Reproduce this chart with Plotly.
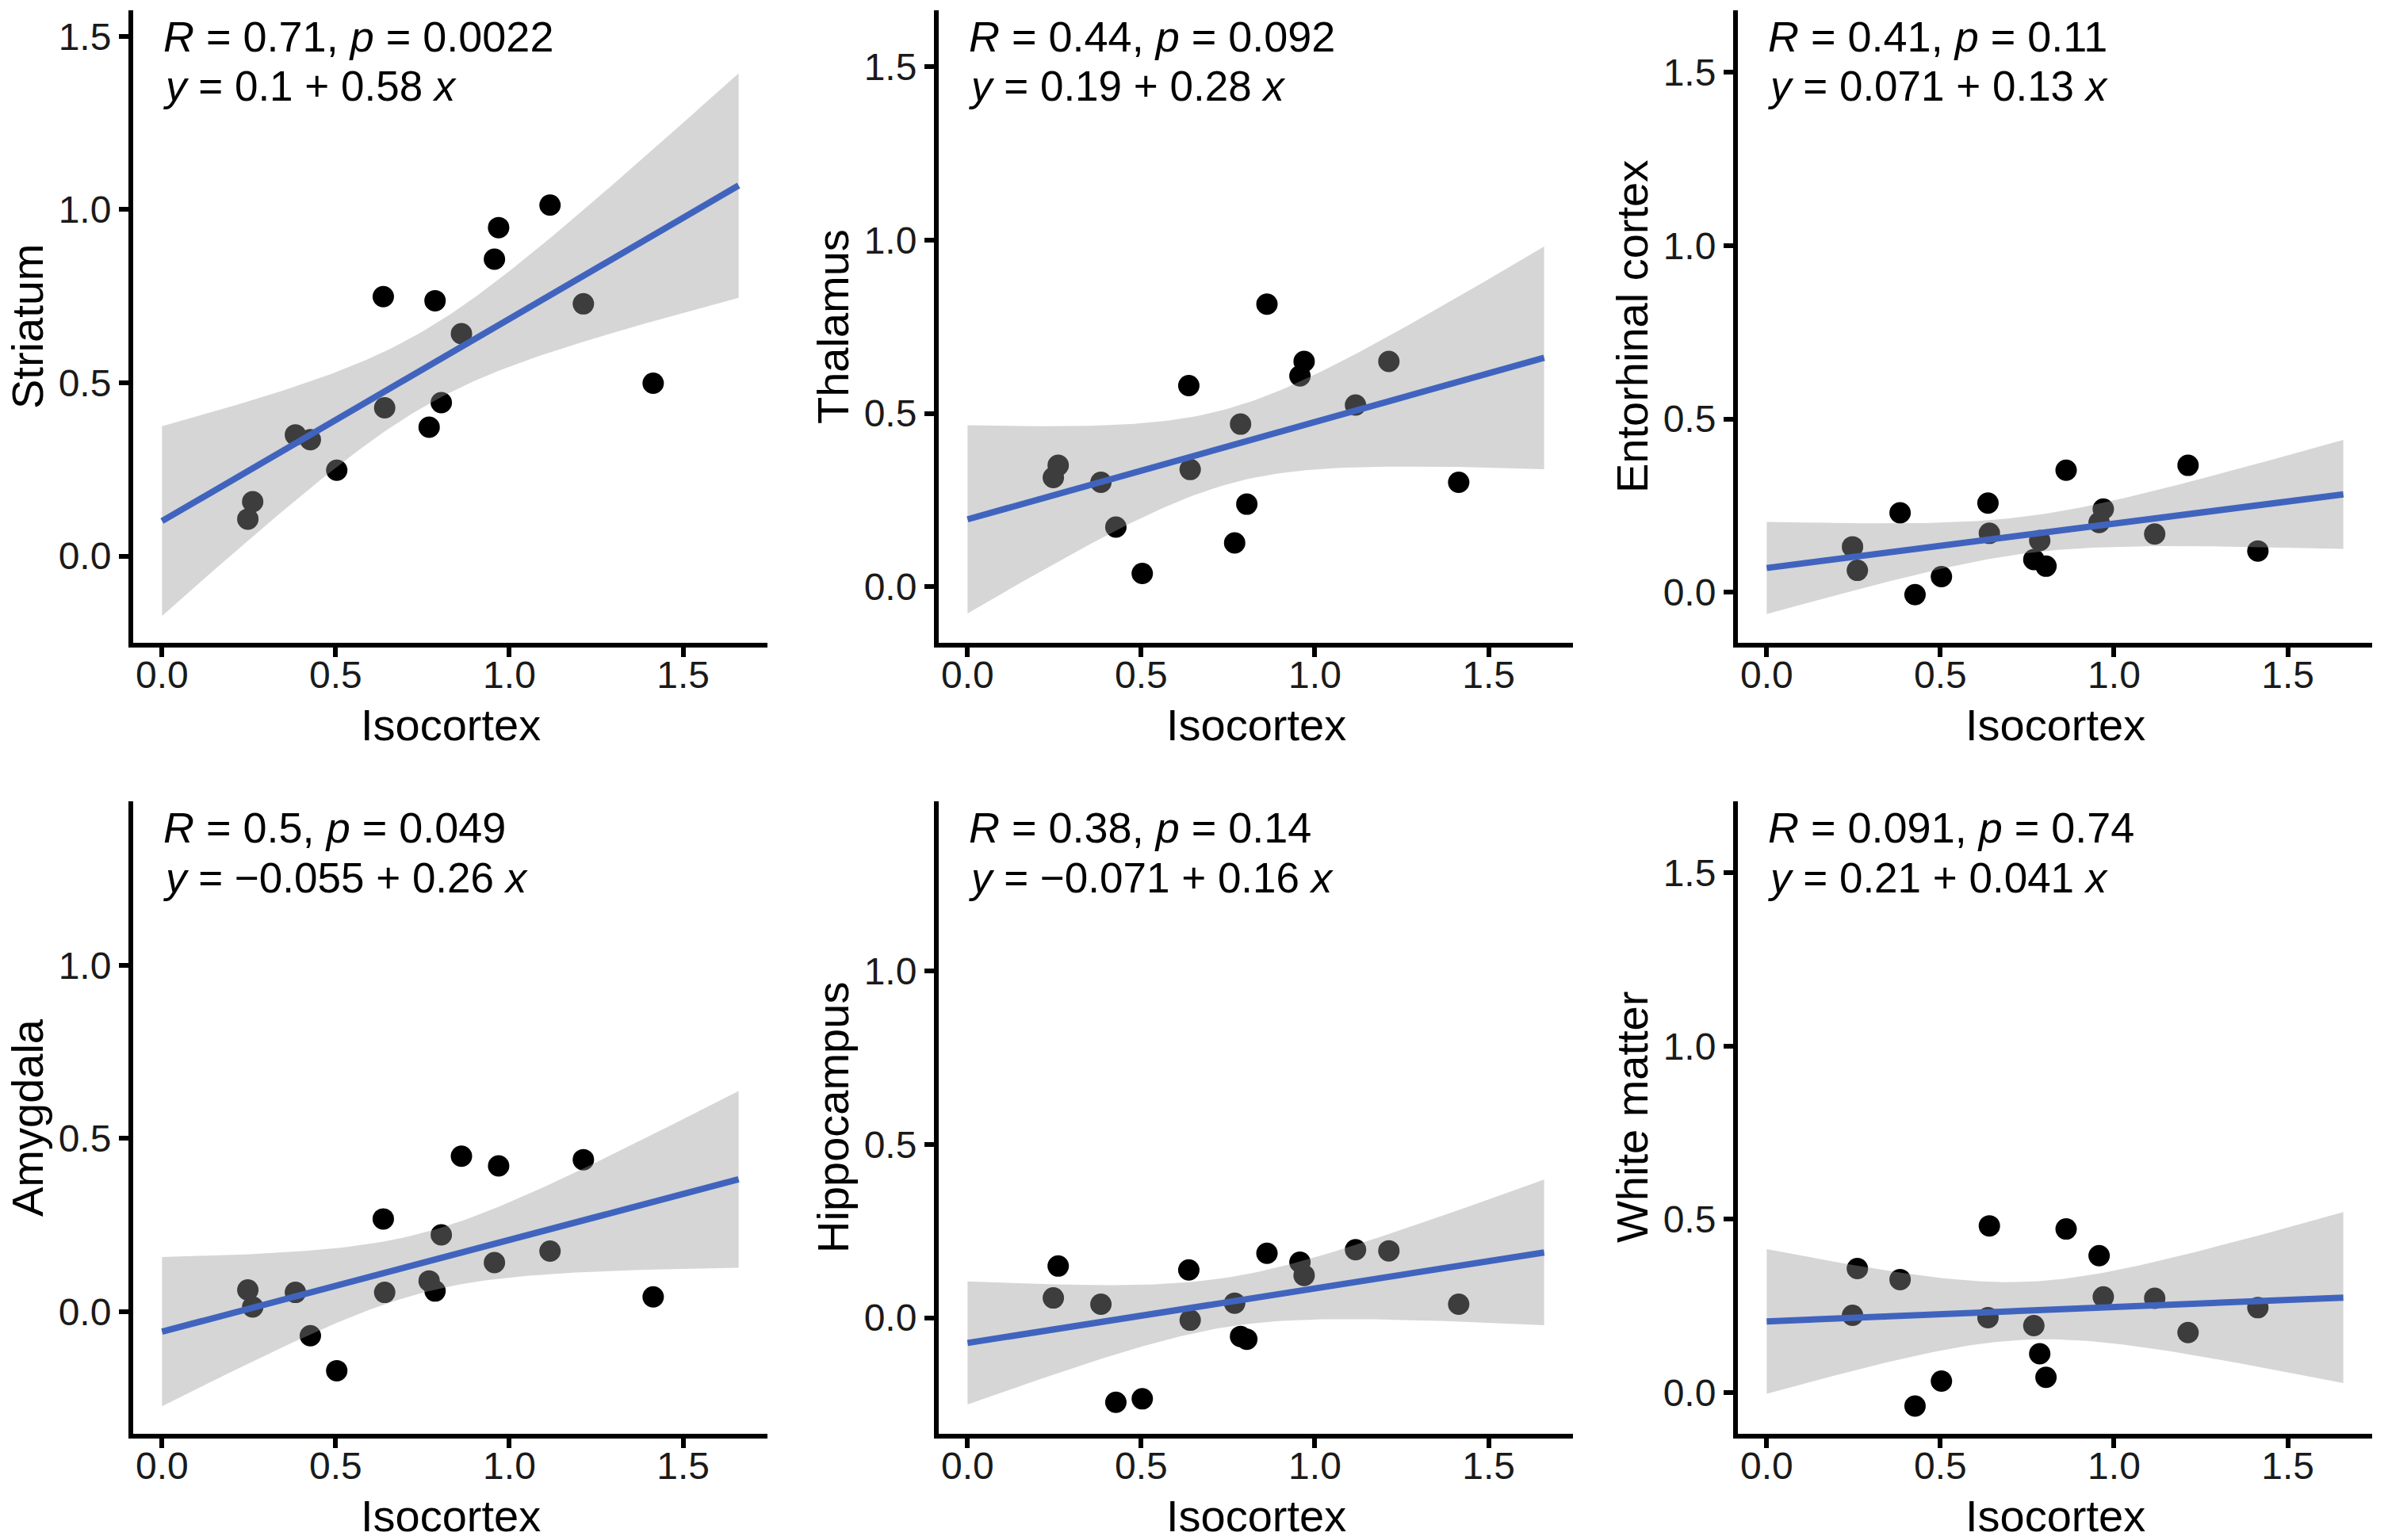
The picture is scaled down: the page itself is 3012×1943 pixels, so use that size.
import numpy as np
import plotly.graph_objects as go

# ---------------- data ----------------
isocortex = [0.247, 0.261, 0.384, 0.427, 0.503, 0.637, 0.641, 0.769,
             0.786, 0.804, 0.862, 0.957, 0.969, 1.117, 1.213, 1.414]

striatum = [0.107, 0.157, 0.350, 0.336, 0.248, 0.749, 0.428, 0.372,
            0.737, 0.443, 0.642, 0.857, 0.948, 1.013, 0.728, 0.499]
thalamus = [0.315, 0.350, 0.301, 0.172, 0.038, 0.580, 0.338, 0.126,
            0.469, 0.238, 0.815, 0.608, 0.650, 0.524, 0.650, 0.301]
entorhinal = [0.131, 0.063, 0.229, -0.007, 0.045, 0.257, 0.170, 0.094,
              0.149, 0.075, 0.352, 0.201, 0.240, 0.168, 0.366, 0.119]
amygdala = [0.063, 0.014, 0.056, -0.069, -0.170, 0.268, 0.056, 0.089,
            0.060, 0.222, 0.449, 0.142, 0.421, 0.175, 0.439, 0.043]
hippocampus = [0.057, 0.149, 0.039, -0.244, -0.234, 0.138, -0.007, 0.042,
               -0.054, -0.062, 0.186, 0.160, 0.122, 0.196, 0.193, 0.039]
white_matter = [0.223, 0.358, 0.326, -0.039, 0.033, 0.216, 0.481, 0.193,
                0.112, 0.044, 0.472, 0.395, 0.276, 0.272, 0.173, 0.245]

regions = ["Striatum", "Thalamus", "Entorhinal cortex",
           "Amygdala", "Hippocampus", "White matter"]
region_values = [striatum, thalamus, entorhinal, amygdala, hippocampus, white_matter]

stat_lines = ["<i>R</i> = 0.71, <i>p</i> = 0.0022",
              "<i>R</i> = 0.44, <i>p</i> = 0.092",
              "<i>R</i> = 0.41, <i>p</i> = 0.11",
              "<i>R</i> = 0.5, <i>p</i> = 0.049",
              "<i>R</i> = 0.38, <i>p</i> = 0.14",
              "<i>R</i> = 0.091, <i>p</i> = 0.74"]
eq_lines = ["<i>y</i> = 0.1 + 0.58 <i>x</i>",
            "<i>y</i> = 0.19 + 0.28 <i>x</i>",
            "<i>y</i> = 0.071 + 0.13 <i>x</i>",
            "<i>y</i> = \u22120.055 + 0.26 <i>x</i>",
            "<i>y</i> = \u22120.071 + 0.16 <i>x</i>",
            "<i>y</i> = 0.21 + 0.041 <i>x</i>"]

x_title = "Isocortex"
x_limits = [0.0, 1.66]
x_range = [-0.083, 1.743]
y_ranges = [[-0.250, 1.575], [-0.162, 1.663], [-0.146, 1.679],
            [-0.352, 1.473], [-0.335, 1.490], [-0.119, 1.706]]
T_975_DF14 = 2.1447866879

# ---------------- layout geometry (pixels) ----------------
W, H = 3012, 1943
col_left = [168, 1184, 2192]
panel_w = 800
row_top = [13, 1011]
panel_h = 798

FONT = "Liberation Sans, Arial, Helvetica, sans-serif"
LINE_BLUE = "#4064BE"


def smooth_lm(x, y, n_grid=100):
    x = np.asarray(x, float)
    y = np.asarray(y, float)
    n = len(x)
    b, a = np.polyfit(x, y, 1)
    resid = y - (a + b * x)
    s = np.sqrt(np.sum(resid ** 2) / (n - 2))
    xbar = x.mean()
    sxx = np.sum((x - xbar) ** 2)
    xs = np.linspace(x_limits[0], x_limits[1], n_grid)
    yhat = a + b * xs
    se = s * np.sqrt(1.0 / n + (xs - xbar) ** 2 / sxx)
    return xs, yhat, yhat - T_975_DF14 * se, yhat + T_975_DF14 * se


fig = go.Figure()
annotations = []
layout_axes = {}

for i, (name, vals) in enumerate(zip(regions, region_values)):
    r, c = divmod(i, 3)
    k = i + 1
    xa = "x" if k == 1 else f"x{k}"
    ya = "y" if k == 1 else f"y{k}"

    x0 = col_left[c]
    x1 = x0 + panel_w
    top = row_top[r]
    bot = top + panel_h
    xdom = [x0 / W, x1 / W]
    ydom = [(H - bot) / H, (H - top) / H]

    # points (drawn first so the ribbon overlays them, as in ggplot)
    fig.add_trace(go.Scatter(
        x=isocortex, y=vals, mode="markers", xaxis=xa, yaxis=ya,
        marker=dict(color="black", size=27, line=dict(width=0)),
        showlegend=False, hoverinfo="skip"))

    xs, yhat, lo, hi = smooth_lm(isocortex, vals)
    fig.add_trace(go.Scatter(
        x=np.concatenate([xs, xs[::-1]]),
        y=np.concatenate([hi, lo[::-1]]),
        mode="lines", fill="toself", fillcolor="rgba(153,153,153,0.4)",
        line=dict(width=0), xaxis=xa, yaxis=ya,
        showlegend=False, hoverinfo="skip"))
    fig.add_trace(go.Scatter(
        x=xs, y=yhat, mode="lines", xaxis=xa, yaxis=ya,
        line=dict(color=LINE_BLUE, width=8),
        showlegend=False, hoverinfo="skip"))

    axis_common = dict(
        showline=True, linecolor="black", linewidth=6,
        ticks="outside", ticklen=12, tickwidth=6, tickcolor="black",
        showgrid=False, zeroline=False, tickformat=".1f",
        tick0=0, dtick=0.5,
        tickfont=dict(family=FONT, size=48, color="#1a1a1a"),
        fixedrange=True)

    layout_axes["xaxis" if k == 1 else f"xaxis{k}"] = dict(
        axis_common, domain=xdom, range=x_range, anchor=ya,
        ticklabelstandoff=-19)
    layout_axes["yaxis" if k == 1 else f"yaxis{k}"] = dict(
        axis_common, domain=ydom, range=y_ranges[i], anchor=xa,
        ticklabelstandoff=0)

    # statistics text
    annotations.append(dict(
        x=0.0, xref=xa, xanchor="left",
        y=(H - (top + 33)) / H, yref="paper", yanchor="middle",
        text=stat_lines[i], showarrow=False,
        font=dict(family=FONT, size=54, color="black")))
    annotations.append(dict(
        x=0.0, xref=xa, xanchor="left",
        y=(H - (top + 96)) / H, yref="paper", yanchor="middle",
        text=eq_lines[i], showarrow=False,
        font=dict(family=FONT, size=53, color="black")))

    # axis titles
    annotations.append(dict(
        x=(x0 + x1) / 2 / W, xref="paper", xanchor="center",
        y=(H - (bot + 103)) / H, yref="paper", yanchor="middle",
        text=x_title, showarrow=False,
        font=dict(family=FONT, size=56, color="black")))
    annotations.append(dict(
        x=(x0 - 134) / W, xref="paper", xanchor="center",
        y=(H - (top + bot) / 2) / H, yref="paper", yanchor="middle",
        text=name, textangle=-90, showarrow=False,
        font=dict(family=FONT, size=56, color="black")))

fig.update_layout(
    width=W, height=H,
    margin=dict(l=0, r=0, t=0, b=0),
    paper_bgcolor="white", plot_bgcolor="white",
    showlegend=False, annotations=annotations,
    **layout_axes)

fig.write_html("out.html")
